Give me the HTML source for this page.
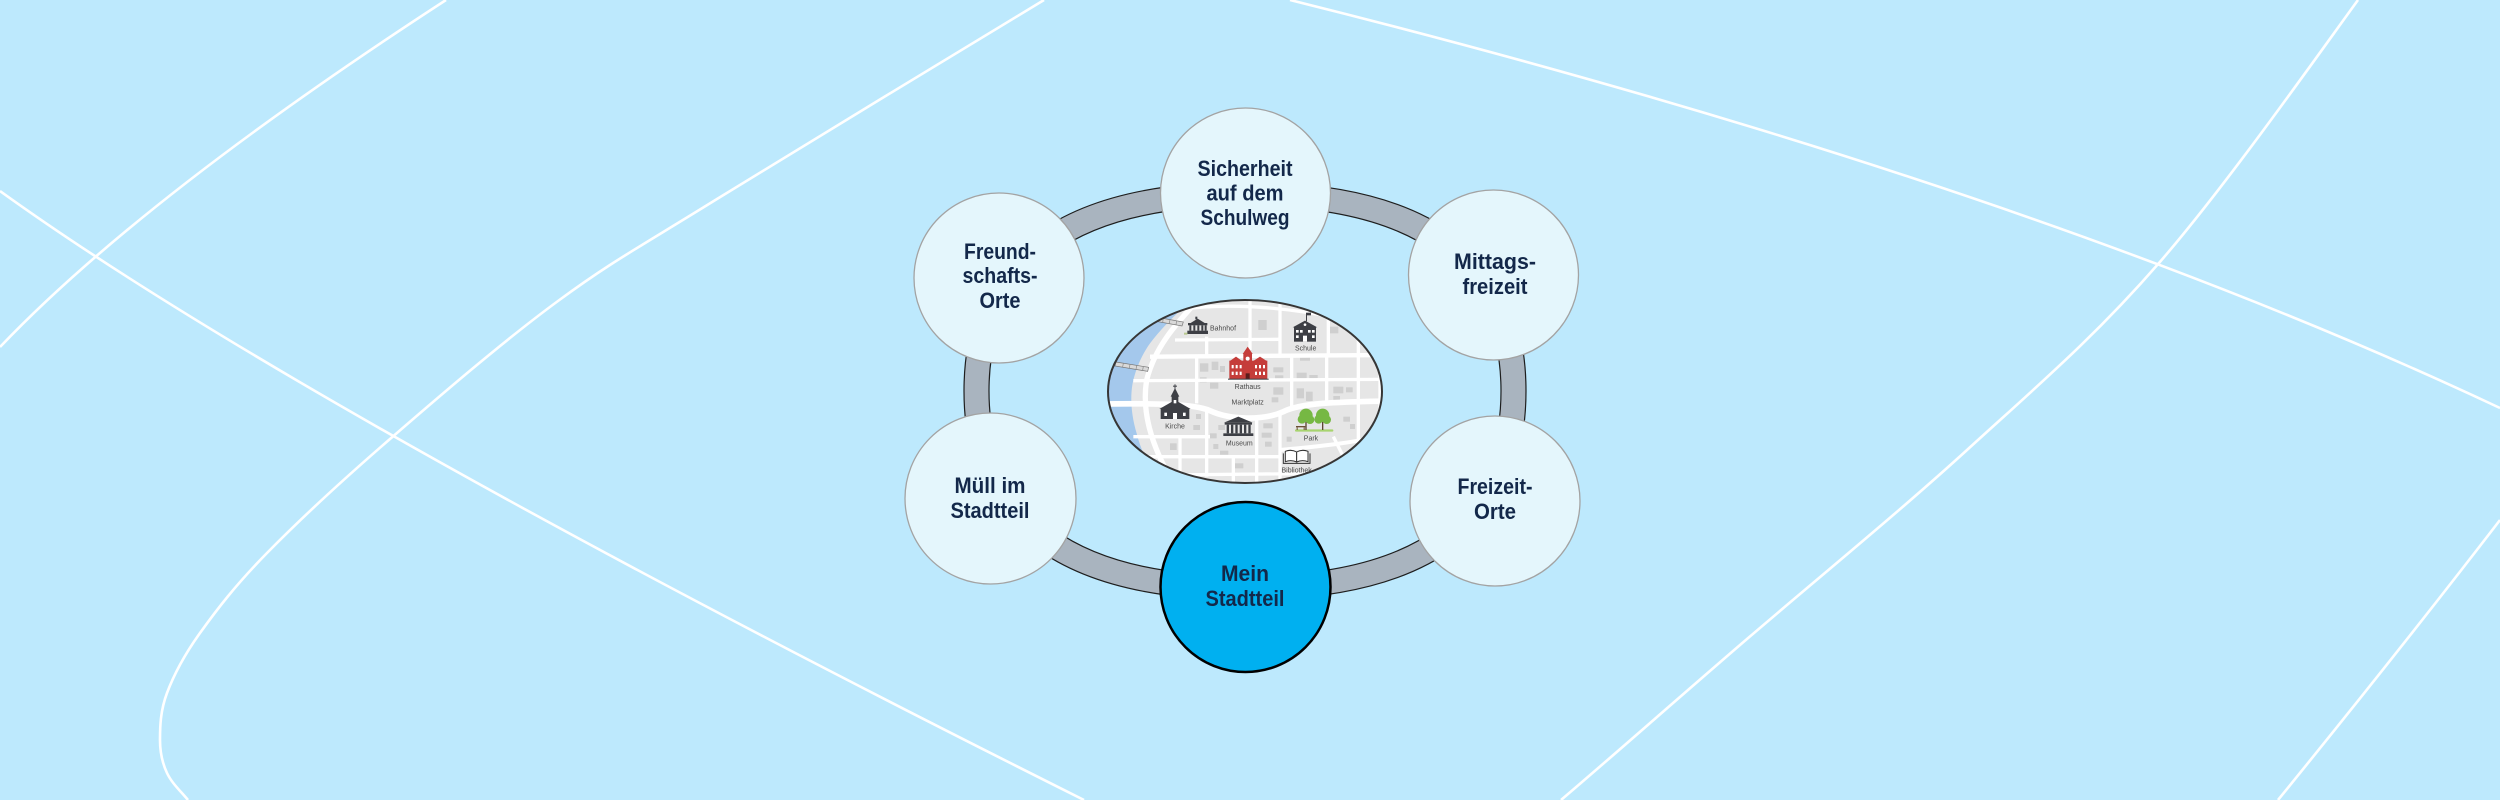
<!DOCTYPE html>
<html><head><meta charset="utf-8"><style>
html,body{margin:0;padding:0;width:2500px;height:800px;overflow:hidden;background:#bde9fd;}
svg{display:block}
.n{font-family:"Liberation Sans",sans-serif;font-weight:bold;font-size:22px;fill:#13284a;}
.m{font-family:"Liberation Sans",sans-serif;font-size:21px;fill:#4a4a4a;}
</style></head><body>
<svg width="2500" height="800" viewBox="0 0 2500 800" xmlns="http://www.w3.org/2000/svg">
<defs>
<clipPath id="mc"><ellipse cx="435" cy="304.5" rx="411" ry="274.5"/></clipPath>
</defs>
<rect width="2500" height="800" fill="#bde9fd"/>
<g fill="none" stroke="#ffffff" stroke-width="2.6">
<path d="M446,0 Q143,197 0,347"/>
<path d="M0,191 Q304,410 1084,800"/>
<path d="M1044,0 C963.5,49 798,148.8 717,199 C636,249.2 612.5,261 558,301 C503.5,341 438.5,397 390,439 C341.5,481 298.7,520.7 267,553 C235.3,585.3 216.7,609.7 200,633 C183.3,656.3 173.7,675.2 167,693 C160.3,710.8 160,726.7 160,740 C160,753.3 162.3,763 167,773 C171.7,783 180,790.5 188,800"/>
<path d="M1290,0 Q2020,182 2500,408"/>
<path d="M2358,0 C2312.8,62.2 2224.2,188 2159,263 C2093.8,338 2036.8,386.3 1967,450 C1897.2,513.7 1807.7,586.7 1740,645 C1672.3,703.3 1611,757.5 1561,800"/>
<path d="M2500,520 Q2400,650 2278,800"/>
</g>
<!-- ring -->
<path d="M1526,391 C1526,253 1430.5,182 1245,182 C1059.5,182 964,253 964,391 C964,529 1059.5,600 1245,600 C1430.5,600 1526,529 1526,391 Z" fill="#a9b4bf" stroke="#1e1e1e" stroke-width="1.2"/>
<path d="M1501,391 C1501,269 1414,206 1245,206 C1076,206 989,269 989,391 C989,513 1076,576 1245,576 C1414,576 1501,513 1501,391 Z" fill="#bde9fd" stroke="#1e1e1e" stroke-width="1.2"/>

<!-- map -->
<g transform="translate(1100 290) scale(0.33333)">
<g clip-path="url(#mc)">
<rect x="0" y="0" width="900" height="620" fill="#e6e6e6"/>
<!-- blocks -->
<g fill="#cfcfcf">
<rect x="300" y="220" width="25" height="25"/><rect x="335" y="215" width="20" height="25"/><rect x="360" y="228" width="15" height="18"/>
<rect x="300" y="262" width="20" height="15"/><rect x="330" y="278" width="25" height="18"/><rect x="520" y="232" width="30" height="15"/>
<rect x="525" y="256" width="25" height="15"/><rect x="590" y="248" width="30" height="20"/><rect x="628" y="255" width="25" height="14"/>
<rect x="700" y="290" width="30" height="20"/><rect x="738" y="292" width="20" height="15"/><rect x="590" y="295" width="22" height="30"/>
<rect x="618" y="305" width="20" height="28"/><rect x="700" y="318" width="20" height="22"/><rect x="355" y="405" width="20" height="15"/>
<rect x="330" y="430" width="20" height="15"/><rect x="490" y="400" width="28" height="15"/><rect x="485" y="428" width="30" height="15"/>
<rect x="495" y="455" width="20" height="15"/><rect x="340" y="462" width="15" height="15"/><rect x="360" y="482" width="25" height="12"/>
<rect x="288" y="372" width="15" height="15"/><rect x="280" y="405" width="20" height="15"/><rect x="520" y="292" width="30" height="22"/>
<rect x="515" y="322" width="20" height="15"/><rect x="730" y="380" width="20" height="15"/><rect x="750" y="402" width="15" height="15"/>
<rect x="560" y="440" width="15" height="15"/><rect x="690" y="110" width="25" height="20"/><rect x="475" y="90" width="25" height="30"/>
<rect x="600" y="200" width="30" height="12"/><rect x="400" y="520" width="30" height="15"/><rect x="210" y="460" width="20" height="20"/>
</g>
<!-- river -->
<path d="M0,0 L300,0 L255,48 C220,80 180,120 150,160 C125,195 105,240 97,285 C90,330 95,380 110,430 C120,470 135,505 160,545 L160,620 L0,620 Z" fill="#a4c8ec"/>
<!-- roads -->
<g fill="none" stroke="#ffffff" stroke-linecap="butt">
<path d="M285,40 C230,100 165,170 140,270 C125,360 150,460 220,580" stroke-width="16"/>
<path d="M240,58 Q450,30 720,85" stroke-width="10"/>
<path d="M225,150 L540,148" stroke-width="10"/>
<path d="M150,200 L880,195" stroke-width="13"/>
<path d="M100,272 L880,268" stroke-width="10"/>
<path d="M20,342 C150,340 280,340 330,362 C390,390 490,392 550,365 C600,340 700,335 880,333" stroke-width="17"/>
<path d="M100,440 L330,440" stroke-width="10"/>
<path d="M80,500 L545,500" stroke-width="10"/>
<path d="M540,480 C650,470 760,460 880,430" stroke-width="12"/>
<path d="M180,555 L720,550" stroke-width="10"/>
<path d="M320,140 L320,200" stroke-width="10"/>
<path d="M450,20 L450,180" stroke-width="10"/>
<path d="M540,40 L540,200" stroke-width="10"/>
<path d="M685,60 L685,200" stroke-width="10"/>
<path d="M775,90 L775,540" stroke-width="10"/>
<path d="M290,200 L290,340" stroke-width="10"/>
<path d="M575,200 L575,350" stroke-width="10"/>
<path d="M680,200 L680,340" stroke-width="10"/>
<path d="M320,360 L320,560" stroke-width="10"/>
<path d="M470,390 L470,610" stroke-width="10"/>
<path d="M540,370 L540,610" stroke-width="10"/>
<path d="M240,440 L240,580" stroke-width="10"/>
<path d="M400,500 L400,610" stroke-width="10"/>
<path d="M840,90 L840,420" stroke-width="10"/>
<path d="M700,440 L760,560" stroke-width="10"/>
</g>
<!-- bridges -->
<g fill="#d9d9d9" stroke="#777" stroke-width="2">
<polygon points="150,78 250,96 246,108 146,90"/>
<polygon points="48,216 146,232 143,244 45,228"/>
</g>
<g stroke="#888" stroke-width="2">
<line x1="170" y1="82" x2="168" y2="93"/><line x1="190" y1="85" x2="188" y2="97"/><line x1="210" y1="89" x2="208" y2="100"/><line x1="230" y1="92" x2="228" y2="104"/>
<line x1="70" y1="220" x2="68" y2="231"/><line x1="90" y1="223" x2="88" y2="235"/><line x1="110" y1="226" x2="108" y2="238"/><line x1="130" y1="229" x2="128" y2="241"/>
</g>
<!-- Bahnhof -->
<g fill="#3d3f45">
<rect x="262" y="122" width="62" height="10"/>
<rect x="268" y="106" width="6" height="16"/><rect x="280" y="106" width="6" height="16"/><rect x="292" y="106" width="6" height="16"/><rect x="304" y="106" width="6" height="16"/><rect x="314" y="106" width="6" height="16"/>
<rect x="264" y="99" width="58" height="7"/>
<polygon points="272,99 293,86 314,99"/>
<rect x="286" y="80" width="6" height="8"/>
</g>
<rect x="252" y="128" width="10" height="6" fill="#b9c98f"/>
<text class="m" x="330" y="121">Bahnhof</text>
<!-- Schule -->
<g fill="#3d3f45">
<rect x="582" y="110" width="66" height="45"/>
<polygon points="578,112 615,92 652,112"/>
<rect x="618" y="68" width="3" height="26"/>
<rect x="621" y="68" width="12" height="8"/>
</g>
<g fill="#ffffff">
<rect x="588" y="120" width="8" height="8"/><rect x="600" y="120" width="8" height="8"/><rect x="624" y="120" width="8" height="8"/><rect x="636" y="120" width="8" height="8"/>
<rect x="588" y="136" width="8" height="8"/><rect x="636" y="136" width="8" height="8"/><rect x="609" y="137" width="12" height="18"/>
<circle cx="615" cy="104" r="4"/>
</g>
<text class="m" x="617" y="181" text-anchor="middle">Schule</text>
<!-- Rathaus -->
<g fill="#c53d3a">
<rect x="388" y="212" width="114" height="55"/>
<rect x="430" y="190" width="26" height="77"/>
<polygon points="428,192 443,170 458,192"/>
<polygon points="388,214 408,200 428,214"/>
<polygon points="458,214 480,200 502,214"/>
</g>
<circle cx="443" cy="206" r="6" fill="#fff"/>
<g fill="#ffffff">
<rect x="395" y="225" width="6" height="10"/><rect x="407" y="225" width="6" height="10"/><rect x="419" y="225" width="6" height="10"/>
<rect x="465" y="225" width="6" height="10"/><rect x="477" y="225" width="6" height="10"/><rect x="489" y="225" width="6" height="10"/>
<rect x="395" y="245" width="6" height="10"/><rect x="407" y="245" width="6" height="10"/><rect x="419" y="245" width="6" height="10"/>
<rect x="465" y="245" width="6" height="10"/><rect x="477" y="245" width="6" height="10"/><rect x="489" y="245" width="6" height="10"/>
</g>
<rect x="437" y="250" width="12" height="17" fill="#5a1d1c"/>
<rect x="384" y="266" width="122" height="3" fill="#3d3f45"/>
<text class="m" x="443" y="297" text-anchor="middle">Rathaus</text>
<text class="m" x="443" y="343" text-anchor="middle">Marktplatz</text>
<!-- Kirche -->
<g fill="#3d3f45">
<rect x="182" y="355" width="86" height="32"/>
<polygon points="178,357 225,330 272,357"/>
<rect x="215" y="318" width="20" height="40"/>
<polygon points="212,320 225,294 238,320"/>
<rect x="223.5" y="283" width="3" height="13"/>
<rect x="219" y="287" width="12" height="3"/>
</g>
<g fill="#ffffff"><rect x="193" y="368" width="8" height="10"/><rect x="249" y="368" width="8" height="10"/><rect x="219" y="369" width="12" height="18"/><rect x="221" y="330" width="8" height="10"/></g>
<text class="m" x="225" y="415" text-anchor="middle">Kirche</text>
<!-- Museum -->
<g fill="#3d3f45">
<polygon points="372,398 415,380 458,398"/>
<rect x="374" y="398" width="82" height="6"/>
<rect x="380" y="404" width="7" height="26"/><rect x="393" y="404" width="7" height="26"/><rect x="406" y="404" width="7" height="26"/>
<rect x="419" y="404" width="7" height="26"/><rect x="432" y="404" width="7" height="26"/><rect x="445" y="404" width="7" height="26"/>
<rect x="370" y="430" width="90" height="8"/>
</g>
<text class="m" x="418" y="466" text-anchor="middle">Museum</text>
<!-- Park -->
<rect x="585" y="418" width="115" height="7" rx="3" fill="#a8d46f"/>
<g stroke="#5b4630" stroke-width="4"><line x1="618" y1="385" x2="618" y2="420"/><line x1="668" y1="385" x2="668" y2="420"/></g>
<g fill="#76b843">
<circle cx="618" cy="376" r="20"/><circle cx="606" cy="388" r="13"/><circle cx="630" cy="389" r="13"/>
<circle cx="668" cy="376" r="20"/><circle cx="656" cy="388" r="13"/><circle cx="680" cy="389" r="13"/>
</g>
<g fill="#6b4f33"><rect x="588" y="408" width="28" height="4"/><rect x="590" y="412" width="3" height="8"/><rect x="611" y="412" width="3" height="8"/></g>
<text class="m" x="633" y="451" text-anchor="middle">Park</text>
<!-- Bibliothek -->
<g fill="#ffffff" stroke="#333" stroke-width="3">
<path d="M556,484 Q574,477 590,486 L590,516 Q574,508 556,515 Z"/>
<path d="M624,484 Q606,477 590,486 L590,516 Q606,508 624,515 Z"/>
<path d="M550,490 L550,520 L630,520 L630,490" fill="none"/>
</g>
<text class="m" x="590" y="547" text-anchor="middle">Bibliothek</text>
</g>
</g>
<ellipse cx="1245" cy="391.5" rx="137" ry="91.5" fill="none" stroke="#363636" stroke-width="2"/>

<!-- nodes -->
<g fill="#e4f6fc" stroke="#a3a3a3" stroke-width="1.3">
<circle cx="1245.5" cy="193" r="85"/>
<circle cx="999" cy="278" r="85"/>
<circle cx="1493.5" cy="275" r="85"/>
<circle cx="990.5" cy="498.5" r="85.5"/>
<circle cx="1495" cy="501" r="85"/>
</g>
<circle cx="1245.5" cy="587" r="85" fill="#00b0f0" stroke="#000" stroke-width="2.5"/>

<g class="n" text-anchor="middle">
<text class="n" x="1245" y="176" text-anchor="middle" textLength="95" lengthAdjust="spacingAndGlyphs">Sicherheit</text>
<text class="n" x="1245" y="200.5" text-anchor="middle" textLength="77" lengthAdjust="spacingAndGlyphs">auf dem</text>
<text class="n" x="1245" y="225" text-anchor="middle" textLength="89" lengthAdjust="spacingAndGlyphs">Schulweg</text>

<text class="n" x="1000" y="259" text-anchor="middle" textLength="72" lengthAdjust="spacingAndGlyphs">Freund-</text>
<text class="n" x="1000" y="283" text-anchor="middle" textLength="75" lengthAdjust="spacingAndGlyphs">schafts-</text>
<text class="n" x="1000" y="308" text-anchor="middle" textLength="41" lengthAdjust="spacingAndGlyphs">Orte</text>

<text class="n" x="1495" y="269" text-anchor="middle" textLength="82" lengthAdjust="spacingAndGlyphs">Mittags-</text>
<text class="n" x="1495" y="294" text-anchor="middle" textLength="65" lengthAdjust="spacingAndGlyphs">freizeit</text>

<text class="n" x="990" y="493" text-anchor="middle" textLength="71" lengthAdjust="spacingAndGlyphs">Müll im</text>
<text class="n" x="990" y="518" text-anchor="middle" textLength="79" lengthAdjust="spacingAndGlyphs">Stadtteil</text>

<text class="n" x="1495" y="494" text-anchor="middle" textLength="75" lengthAdjust="spacingAndGlyphs">Freizeit-</text>
<text class="n" x="1495" y="519" text-anchor="middle" textLength="42" lengthAdjust="spacingAndGlyphs">Orte</text>

<text class="n" x="1245" y="581" text-anchor="middle" textLength="48" lengthAdjust="spacingAndGlyphs">Mein</text>
<text class="n" x="1245" y="606" text-anchor="middle" textLength="79" lengthAdjust="spacingAndGlyphs">Stadtteil</text>
</g>
</svg>
</body></html>
